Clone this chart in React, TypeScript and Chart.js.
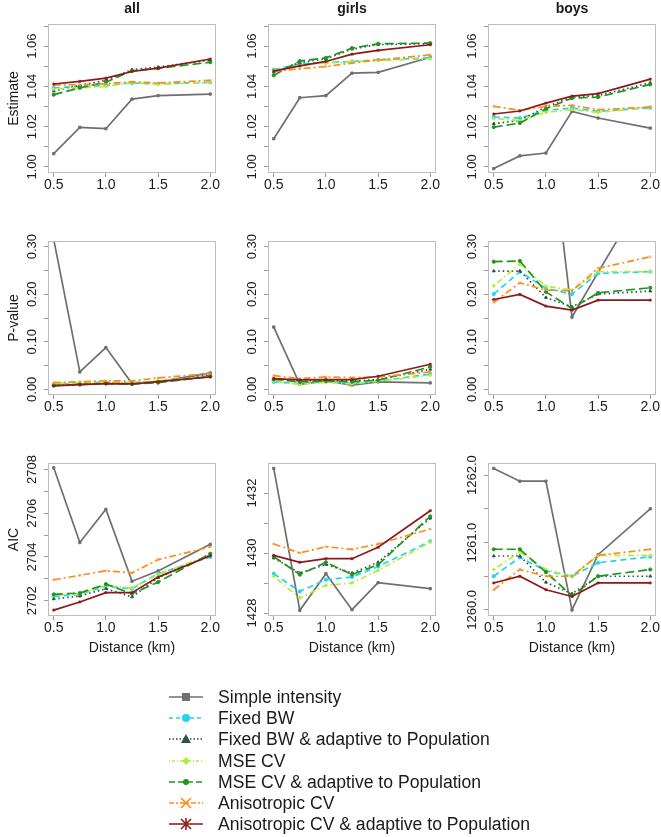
import React, { useEffect, useRef } from 'react';
import { Chart, registerables } from 'chart.js';

Chart.register(...registerables);

const FONT = '"Liberation Sans", Arial, Helvetica, sans-serif';

const distances = [0.5, 0.75, 1.0, 1.25, 1.5, 2.0];
const xTickValues = [0.5, 1.0, 1.5, 2.0];

const methods = [
  'Simple intensity',
  'Fixed BW',
  'Fixed BW & adaptive to Population',
  'MSE CV',
  'MSE CV & adaptive to Population',
  'Anisotropic CV',
  'Anisotropic CV & adaptive to Population',
];
const methodColors = ['#6f6f6f', '#22d4ec', '#2f4f4f', '#b4ee3a', '#1e961e', '#ff8c1a', '#8b1a1a'];
const methodDashes = [[], [6, 4], [1.5, 3], [1.5, 3, 6, 3], [9, 4], [7, 3, 2, 3], []];
const methodPointStyles = ['rect', 'circle', 'triangle', 'rectRot', 'circle', 'crossRot', 'star'];

const groupTitles = ['all', 'girls', 'boys'];
const measureTitles = ['Estimate', 'P-value', 'AIC'];
const xAxisTitle = 'Distance (km)';

// Each row of a panel array follows the order of `methods`
const estimateAll = [
  [1.0066, 1.0197, 1.019, 1.0337, 1.0354, 1.0362],
  [1.0393, 1.04, 1.0405, 1.0417, 1.0413, 1.042],
  [1.0377, 1.0405, 1.043, 1.0483, 1.0496, 1.053],
  [1.0387, 1.0393, 1.04, 1.042, 1.041, 1.0421],
  [1.0359, 1.0393, 1.0421, 1.0478, 1.049, 1.052],
  [1.0407, 1.0408, 1.0413, 1.0423, 1.0417, 1.043],
  [1.0412, 1.0425, 1.0441, 1.0474, 1.0491, 1.0536],
];
const estimateGirls = [
  [1.014, 1.0344, 1.0354, 1.0466, 1.047, 1.0545],
  [1.0483, 1.0512, 1.0519, 1.0524, 1.0532, 1.0542],
  [1.0471, 1.0519, 1.0537, 1.0585, 1.0608, 1.0612],
  [1.0479, 1.0504, 1.0516, 1.0522, 1.0529, 1.0537],
  [1.0455, 1.0526, 1.0542, 1.059, 1.0612, 1.0615],
  [1.0474, 1.0488, 1.0499, 1.0516, 1.0531, 1.0557],
  [1.0476, 1.0502, 1.0524, 1.056, 1.0579, 1.0607],
];
const estimateBoys = [
  [0.9992, 1.0055, 1.0069, 1.0276, 1.0243, 1.0193],
  [1.0248, 1.0243, 1.0281, 1.0293, 1.0276, 1.0294],
  [1.0215, 1.0231, 1.0298, 1.0347, 1.0354, 1.0418],
  [1.024, 1.0231, 1.0271, 1.0286, 1.0271, 1.0298],
  [1.0198, 1.0218, 1.0289, 1.0342, 1.0347, 1.041],
  [1.0301, 1.0281, 1.0301, 1.0306, 1.0284, 1.0298],
  [1.0263, 1.0278, 1.0317, 1.0352, 1.0364, 1.0436],
];
const pValueAll = [
  [0.315, 0.0365, 0.0878, 0.012, 0.0155, 0.0344],
  [0.01, 0.013, 0.015, 0.014, 0.017, 0.029],
  [0.008, 0.011, 0.013, 0.012, 0.016, 0.03],
  [0.012, 0.014, 0.016, 0.013, 0.018, 0.027],
  [0.008, 0.01, 0.012, 0.011, 0.014, 0.027],
  [0.014, 0.016, 0.018, 0.0176, 0.024, 0.033],
  [0.007, 0.0098, 0.012, 0.0112, 0.016, 0.026],
];
const pValueGirls = [
  [0.131, 0.0105, 0.0176, 0.009, 0.0155, 0.0134],
  [0.0155, 0.012, 0.016, 0.0126, 0.0176, 0.0316],
  [0.0225, 0.0176, 0.019, 0.0176, 0.0204, 0.042],
  [0.0169, 0.0105, 0.0148, 0.0112, 0.0169, 0.0295],
  [0.021, 0.0155, 0.0176, 0.016, 0.019, 0.047],
  [0.0288, 0.0225, 0.026, 0.0246, 0.026, 0.0365],
  [0.0225, 0.0197, 0.0204, 0.0204, 0.0274, 0.0527],
];
const pValueBoys = [
  [0.97, 0.66, 0.62, 0.152, 0.246, 0.43],
  [0.2003, 0.2474, 0.2122, 0.2003, 0.2438, 0.2474],
  [0.2488, 0.2488, 0.193, 0.1736, 0.2003, 0.2066],
  [0.2178, 0.2635, 0.2171, 0.2087, 0.2474, 0.2474],
  [0.2684, 0.27, 0.205, 0.17, 0.203, 0.2136],
  [0.1827, 0.224, 0.2087, 0.2073, 0.2544, 0.279],
  [0.189, 0.1996, 0.175, 0.1665, 0.1876, 0.1876],
];
const aicAll = [
  [2708.08, 2704.66, 2706.18, 2702.89, 2703.36, 2704.58],
  [2702.2, 2702.29, 2702.66, 2702.55, 2703.24, 2704.0],
  [2702.08, 2702.21, 2702.55, 2702.17, 2703.05, 2704.1],
  [2702.24, 2702.32, 2702.7, 2702.58, 2703.21, 2704.08],
  [2702.29, 2702.35, 2702.76, 2702.32, 2702.85, 2704.15],
  [2702.96, 2703.16, 2703.37, 2703.27, 2703.88, 2704.46],
  [2701.57, 2701.94, 2702.37, 2702.37, 2703.08, 2704.06],
];
const aicGirls = [
  [1432.82, 1428.09, 1429.31, 1428.11, 1429.01, 1428.81],
  [1429.31, 1428.72, 1429.11, 1429.2, 1429.55, 1430.39],
  [1429.83, 1429.33, 1429.62, 1429.33, 1429.69, 1431.16],
  [1429.22, 1428.5, 1428.92, 1429.0, 1429.42, 1430.36],
  [1429.88, 1429.28, 1429.69, 1429.28, 1429.61, 1431.22],
  [1430.3, 1430.0, 1430.21, 1430.12, 1430.3, 1430.8],
  [1429.92, 1429.69, 1429.81, 1429.81, 1430.19, 1431.41],
];
const aicBoys = [
  [1262.1, 1261.91, 1261.91, 1260.0, 1260.82, 1261.5],
  [1260.5, 1260.78, 1260.58, 1260.5, 1260.7, 1260.79],
  [1260.8, 1260.8, 1260.41, 1260.24, 1260.5, 1260.5],
  [1260.6, 1260.86, 1260.6, 1260.5, 1260.81, 1260.81],
  [1260.9, 1260.9, 1260.56, 1260.21, 1260.5, 1260.6],
  [1260.3, 1260.6, 1260.5, 1260.5, 1260.81, 1260.9],
  [1260.4, 1260.5, 1260.3, 1260.2, 1260.4, 1260.4],
];

// tick marks and tick labels
const estimateTicks = [1.0, 1.01, 1.02, 1.03, 1.04, 1.05, 1.06, 1.07];
const estimateTickLabels = ['1.00', '1.02', '1.04', '1.06'];
const pValueTicks = [0, 0.05, 0.1, 0.15, 0.2, 0.25, 0.3];
const pValueTickLabels = ['0.00', '0.10', '0.20', '0.30'];
const aicAllTicks = [2702, 2703, 2704, 2705, 2706, 2707, 2708];
const aicAllTickLabels = ['2702', '2704', '2706', '2708'];
const aicGirlsTicks = [1428, 1429, 1430, 1431, 1432];
const aicGirlsTickLabels = ['1428', '1430', '1432'];
const aicBoysTicks = [1260, 1260.5, 1261, 1261.5, 1262];
const aicBoysTickLabels = ['1260.0', '1261.0', '1262.0'];

const estimateRange = [0.997, 1.071];
const pValueRange = [-0.012, 0.312];
const aicAllRange = [2701.3, 2708.3];
const aicGirlsRange = [1427.9, 1433.0];
const aicBoysRange = [1259.91, 1262.18];
const xRange = [0.445, 2.055];

// layout (pixels)
const colLefts = [48, 268, 488];
const rowTops = [24, 241, 463];
const rowHeights = [149, 154, 153];
const boxWidth = 169;
const yAxisW = 48;
const topPad = 22;
const rightPad = 4;

const panelDecor = {
  id: 'panelDecor',
  afterDraw(chart: any, _args: any, opts: any) {
    const { ctx, chartArea: a, scales } = chart;
    ctx.save();
    ctx.strokeStyle = '#bdbdbd';
    ctx.lineWidth = 1;
    ctx.strokeRect(Math.round(a.left) + 0.5, Math.round(a.top) + 0.5, Math.round(a.right - a.left) - 1, Math.round(a.bottom - a.top) - 1);
    ctx.fillStyle = '#1a1a1a';
    ctx.textAlign = 'center';
    ctx.textBaseline = 'middle';
    ctx.font = `13px ${FONT}`;
    for (const lab of opts.yLabels as string[]) {
      const py = scales.y.getPixelForValue(parseFloat(lab));
      ctx.save();
      ctx.translate(a.left - 16, py);
      ctx.rotate(-Math.PI / 2);
      ctx.fillText(lab, 0, 0);
      ctx.restore();
    }
    if (opts.yTitle) {
      ctx.save();
      ctx.font = `14px ${FONT}`;
      ctx.translate(a.left - 34, (a.top + a.bottom) / 2);
      ctx.rotate(-Math.PI / 2);
      ctx.fillText(opts.yTitle, 0, 0);
      ctx.restore();
    }
    if (opts.title) {
      ctx.font = `bold 14px ${FONT}`;
      ctx.fillText(opts.title, (a.left + a.right) / 2, a.top - 15);
    }
    if (opts.xTitle) {
      ctx.font = `14px ${FONT}`;
      ctx.fillText(opts.xTitle, (a.left + a.right) / 2, a.bottom + 32);
    }
    ctx.restore();
  },
};

type PanelSpec = {
  row: number;
  col: number;
  data: number[][];
  range: number[];
  ticks: number[];
  labels: string[];
};

const panels: PanelSpec[] = [
  { row: 0, col: 0, data: estimateAll, range: estimateRange, ticks: estimateTicks, labels: estimateTickLabels },
  { row: 0, col: 1, data: estimateGirls, range: estimateRange, ticks: estimateTicks, labels: estimateTickLabels },
  { row: 0, col: 2, data: estimateBoys, range: estimateRange, ticks: estimateTicks, labels: estimateTickLabels },
  { row: 1, col: 0, data: pValueAll, range: pValueRange, ticks: pValueTicks, labels: pValueTickLabels },
  { row: 1, col: 1, data: pValueGirls, range: pValueRange, ticks: pValueTicks, labels: pValueTickLabels },
  { row: 1, col: 2, data: pValueBoys, range: pValueRange, ticks: pValueTicks, labels: pValueTickLabels },
  { row: 2, col: 0, data: aicAll, range: aicAllRange, ticks: aicAllTicks, labels: aicAllTickLabels },
  { row: 2, col: 1, data: aicGirls, range: aicGirlsRange, ticks: aicGirlsTicks, labels: aicGirlsTickLabels },
  { row: 2, col: 2, data: aicBoys, range: aicBoysRange, ticks: aicBoysTicks, labels: aicBoysTickLabels },
];

function Panel({ spec }: { spec: PanelSpec }) {
  const ref = useRef<HTMLCanvasElement>(null);
  const xAxisH = spec.row === 2 ? 48 : 24;
  const w = yAxisW + boxWidth + rightPad;
  const h = topPad + rowHeights[spec.row] + xAxisH;
  useEffect(() => {
    if (!ref.current) return;
    const datasets = methods.map((m, i) => ({
      label: m,
      data: distances.map((d, k) => ({ x: d, y: spec.data[i][k] })),
      borderColor: methodColors[i],
      backgroundColor: methodColors[i],
      borderWidth: 1.7,
      borderDash: methodDashes[i],
      pointStyle: methodPointStyles[i],
      pointRadius: 1.6,
      pointBorderWidth: 1,
      pointBorderColor: methodColors[i],
      pointBackgroundColor: methodColors[i],
      tension: 0,
      order: methods.length - i,
    }));
    const chart = new Chart(ref.current, {
      type: 'line',
      data: { datasets },
      plugins: [panelDecor as any],
      options: {
        responsive: false,
        animation: false,
        events: [],
        layout: { padding: { left: 0, top: topPad, right: rightPad, bottom: 0 } },
        plugins: {
          legend: { display: false },
          tooltip: { enabled: false },
          title: { display: false },
          panelDecor: {
            yLabels: spec.labels,
            yTitle: spec.col === 0 ? measureTitles[spec.row] : '',
            title: spec.row === 0 ? groupTitles[spec.col] : '',
            xTitle: spec.row === 2 ? xAxisTitle : '',
          },
        } as any,
        scales: {
          x: {
            type: 'linear',
            min: xRange[0],
            max: xRange[1],
            afterBuildTicks: (s: any) => {
              s.ticks = xTickValues.map((v) => ({ value: v }));
            },
            afterFit: (s: any) => {
              s.height = xAxisH;
            },
            grid: { drawOnChartArea: false, drawTicks: true, tickLength: 4, color: '#9a9a9a' },
            border: { display: false },
            ticks: {
              font: { size: 14, family: FONT },
              color: '#1a1a1a',
              padding: 0,
              maxRotation: 0,
              minRotation: 0,
              autoSkip: false,
              callback: (v: any) => Number(v).toFixed(1),
            },
          },
          y: {
            type: 'linear',
            min: spec.range[0],
            max: spec.range[1],
            afterBuildTicks: (s: any) => {
              s.ticks = spec.ticks.map((v) => ({ value: v }));
            },
            afterFit: (s: any) => {
              s.width = yAxisW;
            },
            grid: { drawOnChartArea: false, drawTicks: true, tickLength: 4, color: '#9a9a9a' },
            border: { display: false },
            ticks: { display: false },
          },
        },
      } as any,
    });
    return () => chart.destroy();
  }, [spec]);
  return (
    <canvas
      ref={ref}
      width={w}
      height={h}
      style={{
        position: 'absolute',
        left: colLefts[spec.col] - yAxisW,
        top: rowTops[spec.row] - topPad,
        width: w,
        height: h,
      }}
    />
  );
}

function LegendIcon({ i }: { i: number }) {
  const c = methodColors[i];
  const dashMap = ['', '4 3', '1.5 2', '1 2 3 2', '6 3', '5 2 2 2', ''];
  const cx = 19;
  const cy = 11;
  let marker: any = null;
  if (i === 0) marker = <rect x={cx - 4} y={cy - 4} width={8} height={8} fill={c} />;
  else if (i === 1) marker = <circle cx={cx} cy={cy} r={4} fill={c} />;
  else if (i === 2) marker = <polygon points={`${cx},${cy - 5} ${cx - 5},${cy + 4} ${cx + 5},${cy + 4}`} fill={c} />;
  else if (i === 3) marker = <polygon points={`${cx},${cy - 4} ${cx + 4},${cy} ${cx},${cy + 4} ${cx - 4},${cy}`} fill={c} />;
  else if (i === 4) marker = <circle cx={cx} cy={cy} r={3} fill={c} />;
  else if (i === 5)
    marker = (
      <g stroke={c} strokeWidth={1.6}>
        <line x1={cx - 5} y1={cy - 5} x2={cx + 5} y2={cy + 5} />
        <line x1={cx - 5} y1={cy + 5} x2={cx + 5} y2={cy - 5} />
      </g>
    );
  else
    marker = (
      <g stroke={c} strokeWidth={1.6}>
        <line x1={cx - 5} y1={cy - 5} x2={cx + 5} y2={cy + 5} />
        <line x1={cx - 5} y1={cy + 5} x2={cx + 5} y2={cy - 5} />
        <line x1={cx} y1={cy - 6} x2={cx} y2={cy + 6} />
      </g>
    );
  return (
    <svg width={40} height={22} style={{ display: 'block' }}>
      <line x1={2} y1={cy} x2={36} y2={cy} stroke={c} strokeWidth={1.6} strokeDasharray={dashMap[i] || undefined} />
      {marker}
    </svg>
  );
}

export default function App() {
  return (
    <div
      style={{
        position: 'absolute',
        left: 0,
        top: 0,
        width: 661,
        height: 837,
        background: '#ffffff',
        fontFamily: FONT,
        overflow: 'hidden',
      }}
    >
      {panels.map((p) => (
        <Panel key={`${p.row}-${p.col}`} spec={p} />
      ))}
      {methods.map((m, i) => (
        <div
          key={m}
          style={{
            position: 'absolute',
            left: 167,
            top: 697 + i * 21.2 - 11,
            height: 22,
            display: 'flex',
            alignItems: 'center',
            whiteSpace: 'nowrap',
          }}
        >
          <LegendIcon i={i} />
          <span style={{ marginLeft: 11, fontSize: 17.6, color: '#1a1a1a', lineHeight: '22px' }}>{m}</span>
        </div>
      ))}
    </div>
  );
}
